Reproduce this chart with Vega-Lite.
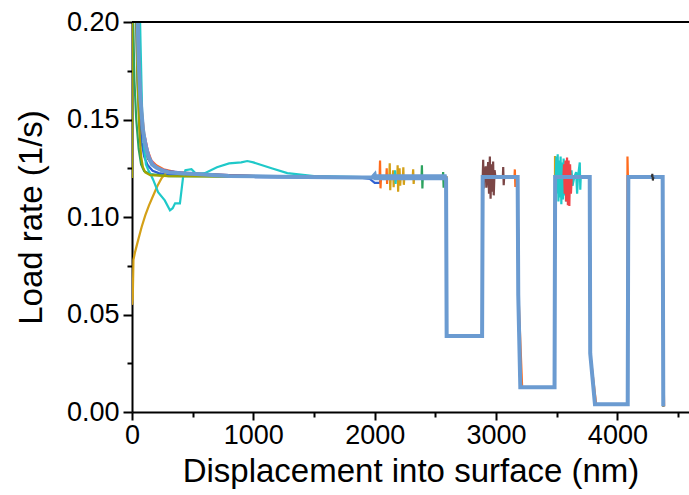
{
"$schema": "https://vega.github.io/schema/vega-lite/v6.json",
"autosize": "none",
"width": 557,
"height": 390,
"padding": {"left": 132, "top": 22, "right": 0, "bottom": 83},
"background": "white",
"config": {
  "view": {"stroke": null},
  "axis": {"grid": false, "domainColor": "black", "domainWidth": 2, "tickColor": "black", "tickWidth": 2,
    "labelFont": "Liberation Sans", "labelFontSize": 27, "labelColor": "black",
    "titleFont": "Liberation Sans", "titleFontSize": 33, "titleFontWeight": "normal", "titleColor": "black",
    "labelOverlap": false, "labelFlush": false}
},
"data": {"values": [
{"s":"b","x":0,"y":0.5},{"s":"b","x":15,"y":0.3},{"s":"b","x":30,"y":0.21},{"s":"b","x":45,"y":0.17},{"s":"b","x":60,"y":0.15},{"s":"b","x":80,"y":0.138},{"s":"b","x":100,"y":0.131},{"s":"b","x":130,"y":0.1265},{"s":"b","x":170,"y":0.1237},{"s":"b","x":220,"y":0.1225},{"s":"b","x":300,"y":0.1218},{"s":"b","x":500,"y":0.1212},{"s":"b","x":1000,"y":0.1205},{"s":"b","x":1900,"y":0.12},{"s":"b","x":1960,"y":0.1195},{"s":"b","x":2000,"y":0.1175},{"s":"b","x":2040,"y":0.1175},{"s":"b","x":2060,"y":0.1203},
{"s":"b","x":2588,"y":0.1203},{"s":"b","x":2593,"y":0.039},{"s":"b","x":2885,"y":0.039},{"s":"b","x":2890,"y":0.1205},{"s":"b","x":3178,"y":0.1205},{"s":"b","x":3183,"y":0.06},{"s":"b","x":3200,"y":0.0127},{"s":"b","x":3482,"y":0.0127},{"s":"b","x":3487,"y":0.1205},{"s":"b","x":3595,"y":0.1205},{"s":"b","x":3599,"y":0.125},{"s":"b","x":3603,"y":0.116},{"s":"b","x":3607,"y":0.1205},{"s":"b","x":3772,"y":0.1205},{"s":"b","x":3776,"y":0.03},{"s":"b","x":3815,"y":0.004},{"s":"b","x":4085,"y":0.004},{"s":"b","x":4090,"y":0.1205},{"s":"b","x":4373,"y":0.1205},{"s":"b","x":4378,"y":0.003},

{"s":"o","x":0,"y":0.6},{"s":"o","x":20,"y":0.33},{"s":"o","x":40,"y":0.23},{"s":"o","x":60,"y":0.18},{"s":"o","x":80,"y":0.155},{"s":"o","x":100,"y":0.143},{"s":"o","x":130,"y":0.134},{"s":"o","x":160,"y":0.129},{"s":"o","x":200,"y":0.1265},{"s":"o","x":260,"y":0.1245},{"s":"o","x":350,"y":0.1232},{"s":"o","x":500,"y":0.1222},{"s":"o","x":800,"y":0.1212},{"s":"o","x":1200,"y":0.1207},{"s":"o","x":1900,"y":0.1203},{"s":"o","x":2040,"y":0.1203},{"s":"o","x":2044,"y":0.129},{"s":"o","x":2048,"y":0.1147},{"s":"o","x":2052,"y":0.1203},{"s":"o","x":2096,"y":0.1203},{"s":"o","x":2099,"y":0.125},{"s":"o","x":2102,"y":0.117},{"s":"o","x":2105,"y":0.1203},
{"s":"o","x":2588,"y":0.1203},{"s":"o","x":2593,"y":0.039},{"s":"o","x":2885,"y":0.039},{"s":"o","x":2890,"y":0.1205},{"s":"o","x":3152,"y":0.1205},{"s":"o","x":3155,"y":0.1244},{"s":"o","x":3159,"y":0.1154},{"s":"o","x":3162,"y":0.1205},{"s":"o","x":3178,"y":0.1205},{"s":"o","x":3185,"y":0.06},{"s":"o","x":3215,"y":0.0127},{"s":"o","x":3482,"y":0.0127},{"s":"o","x":3487,"y":0.1205},{"s":"o","x":3772,"y":0.1205},{"s":"o","x":3776,"y":0.03},{"s":"o","x":3825,"y":0.004},{"s":"o","x":4080,"y":0.004},{"s":"o","x":4083,"y":0.131},{"s":"o","x":4086,"y":0.122},{"s":"o","x":4090,"y":0.1205},{"s":"o","x":4373,"y":0.1205},{"s":"o","x":4380,"y":0.02},{"s":"o","x":4385,"y":0.003},

{"s":"g","x":0,"y":0.055},{"s":"g","x":6,"y":0.058},{"s":"g","x":12,"y":0.078},{"s":"g","x":25,"y":0.082},{"s":"g","x":50,"y":0.088},{"s":"g","x":80,"y":0.095},{"s":"g","x":110,"y":0.101},{"s":"g","x":140,"y":0.106},{"s":"g","x":175,"y":0.111},{"s":"g","x":210,"y":0.116},{"s":"g","x":245,"y":0.12},{"s":"g","x":280,"y":0.1225},{"s":"g","x":330,"y":0.1232},{"s":"g","x":420,"y":0.1228},{"s":"g","x":700,"y":0.1215},{"s":"g","x":1200,"y":0.1207},{"s":"g","x":1900,"y":0.1203},
{"s":"g","x":2120,"y":0.1203},{"s":"g","x":2124,"y":0.1275},{"s":"g","x":2128,"y":0.1137},{"s":"g","x":2132,"y":0.1203},{"s":"g","x":2148,"y":0.1203},{"s":"g","x":2152,"y":0.124},{"s":"g","x":2156,"y":0.1153},{"s":"g","x":2160,"y":0.1203},{"s":"g","x":2186,"y":0.1203},{"s":"g","x":2189,"y":0.1265},{"s":"g","x":2193,"y":0.113},{"s":"g","x":2197,"y":0.1203},{"s":"g","x":2205,"y":0.125},{"s":"g","x":2210,"y":0.116},{"s":"g","x":2214,"y":0.1203},{"s":"g","x":2232,"y":0.1203},{"s":"g","x":2236,"y":0.1255},{"s":"g","x":2240,"y":0.1165},{"s":"g","x":2244,"y":0.1203},{"s":"g","x":2313,"y":0.1203},{"s":"g","x":2317,"y":0.1245},{"s":"g","x":2321,"y":0.117},{"s":"g","x":2325,"y":0.1203},
{"s":"g","x":2588,"y":0.1203},{"s":"g","x":2593,"y":0.039},{"s":"g","x":2885,"y":0.039},{"s":"g","x":2890,"y":0.1205},{"s":"g","x":3178,"y":0.1205},{"s":"g","x":3183,"y":0.06},{"s":"g","x":3200,"y":0.0127},{"s":"g","x":3482,"y":0.0127},{"s":"g","x":3486,"y":0.1313},{"s":"g","x":3489,"y":0.116},{"s":"g","x":3492,"y":0.1205},{"s":"g","x":3772,"y":0.1205},{"s":"g","x":3776,"y":0.03},{"s":"g","x":3815,"y":0.004},{"s":"g","x":4085,"y":0.004},{"s":"g","x":4090,"y":0.1205},{"s":"g","x":4373,"y":0.1205},{"s":"g","x":4378,"y":0.003},

{"s":"gr","x":0,"y":0.3},{"s":"gr","x":10,"y":0.2},{"s":"gr","x":20,"y":0.17},{"s":"gr","x":35,"y":0.15},{"s":"gr","x":55,"y":0.135},{"s":"gr","x":75,"y":0.127},{"s":"gr","x":100,"y":0.1235},{"s":"gr","x":150,"y":0.122},{"s":"gr","x":300,"y":0.121},{"s":"gr","x":1900,"y":0.1203},{"s":"gr","x":2386,"y":0.1203},{"s":"gr","x":2389,"y":0.1265},{"s":"gr","x":2393,"y":0.1146},{"s":"gr","x":2396,"y":0.1203},{"s":"gr","x":2561,"y":0.1203},{"s":"gr","x":2564,"y":0.123},{"s":"gr","x":2568,"y":0.115},{"s":"gr","x":2572,"y":0.1203},
{"s":"gr","x":2588,"y":0.1203},{"s":"gr","x":2593,"y":0.039},{"s":"gr","x":2885,"y":0.039},{"s":"gr","x":2890,"y":0.1205},{"s":"gr","x":3178,"y":0.1205},{"s":"gr","x":3183,"y":0.06},{"s":"gr","x":3200,"y":0.0127},{"s":"gr","x":3482,"y":0.0127},{"s":"gr","x":3487,"y":0.1205},{"s":"gr","x":3772,"y":0.1205},{"s":"gr","x":3776,"y":0.03},{"s":"gr","x":3815,"y":0.004},{"s":"gr","x":4085,"y":0.004},{"s":"gr","x":4090,"y":0.1205},{"s":"gr","x":4373,"y":0.1205},{"s":"gr","x":4378,"y":0.003},

{"s":"p","x":0,"y":0.6},{"s":"p","x":25,"y":0.3},{"s":"p","x":45,"y":0.2},{"s":"p","x":65,"y":0.16},{"s":"p","x":80,"y":0.147},{"s":"p","x":95,"y":0.143},{"s":"p","x":110,"y":0.14},{"s":"p","x":130,"y":0.134},{"s":"p","x":150,"y":0.13},{"s":"p","x":180,"y":0.127},{"s":"p","x":220,"y":0.125},{"s":"p","x":300,"y":0.1235},{"s":"p","x":500,"y":0.1222},{"s":"p","x":1000,"y":0.121},{"s":"p","x":1900,"y":0.1203},
{"s":"p","x":2588,"y":0.1203},{"s":"p","x":2593,"y":0.039},{"s":"p","x":2885,"y":0.039},{"s":"p","x":2890,"y":0.1205},{"s":"p","x":3178,"y":0.1205},{"s":"p","x":3183,"y":0.06},{"s":"p","x":3200,"y":0.0127},{"s":"p","x":3482,"y":0.0127},{"s":"p","x":3487,"y":0.1205},{"s":"p","x":3772,"y":0.1205},{"s":"p","x":3776,"y":0.03},{"s":"p","x":3815,"y":0.004},{"s":"p","x":4085,"y":0.004},{"s":"p","x":4090,"y":0.1205},{"s":"p","x":4373,"y":0.1205},{"s":"p","x":4378,"y":0.003},

{"s":"br","x":0,"y":0.6},{"s":"br","x":20,"y":0.3},{"s":"br","x":40,"y":0.2},{"s":"br","x":60,"y":0.16},{"s":"br","x":90,"y":0.142},{"s":"br","x":130,"y":0.13},{"s":"br","x":180,"y":0.126},{"s":"br","x":250,"y":0.124},{"s":"br","x":400,"y":0.1225},{"s":"br","x":1000,"y":0.121},{"s":"br","x":1900,"y":0.1203},
{"s":"br","x":2588,"y":0.1203},{"s":"br","x":2593,"y":0.039},{"s":"br","x":2885,"y":0.039},{"s":"br","x":2890,"y":0.1205},{"s":"br","x":2894,"y":0.1294},{"s":"br","x":2898,"y":0.1146},{"s":"br","x":2902,"y":0.1205},{"s":"br","x":2915,"y":0.126},{"s":"br","x":2920,"y":0.115},{"s":"br","x":2935,"y":0.1282},{"s":"br","x":2942,"y":0.112},{"s":"br","x":2949,"y":0.131},{"s":"br","x":2955,"y":0.1094},{"s":"br","x":2962,"y":0.127},{"s":"br","x":2970,"y":0.113},{"s":"br","x":2976,"y":0.1285},{"s":"br","x":2981,"y":0.1111},{"s":"br","x":2988,"y":0.124},{"s":"br","x":2995,"y":0.1205},{"s":"br","x":3056,"y":0.1205},{"s":"br","x":3059,"y":0.1256},{"s":"br","x":3063,"y":0.1163},{"s":"br","x":3067,"y":0.1205},
{"s":"br","x":3178,"y":0.1205},{"s":"br","x":3183,"y":0.06},{"s":"br","x":3200,"y":0.0127},{"s":"br","x":3482,"y":0.0127},{"s":"br","x":3487,"y":0.1205},{"s":"br","x":3772,"y":0.1205},{"s":"br","x":3776,"y":0.03},{"s":"br","x":3815,"y":0.004},{"s":"br","x":4085,"y":0.004},{"s":"br","x":4090,"y":0.1205},{"s":"br","x":4373,"y":0.1205},{"s":"br","x":4378,"y":0.003},

{"s":"c","x":0,"y":0.8},{"s":"c","x":40,"y":0.4},{"s":"c","x":60,"y":0.22},{"s":"c","x":70,"y":0.19},{"s":"c","x":85,"y":0.15},{"s":"c","x":100,"y":0.135},{"s":"c","x":115,"y":0.127},{"s":"c","x":135,"y":0.124},{"s":"c","x":160,"y":0.121},{"s":"c","x":175,"y":0.119},{"s":"c","x":215,"y":0.1127},{"s":"c","x":270,"y":0.1085},{"s":"c","x":313,"y":0.1034},{"s":"c","x":335,"y":0.1045},{"s":"c","x":355,"y":0.107},{"s":"c","x":395,"y":0.107},{"s":"c","x":420,"y":0.12},{"s":"c","x":440,"y":0.124},{"s":"c","x":490,"y":0.1245},{"s":"c","x":530,"y":0.122},{"s":"c","x":600,"y":0.1225},{"s":"c","x":700,"y":0.1255},{"s":"c","x":800,"y":0.1275},{"s":"c","x":900,"y":0.128},{"s":"c","x":950,"y":0.1287},{"s":"c","x":1000,"y":0.128},{"s":"c","x":1060,"y":0.1268},{"s":"c","x":1150,"y":0.125},{"s":"c","x":1280,"y":0.1225},{"s":"c","x":1500,"y":0.121},{"s":"c","x":1900,"y":0.1205},{"s":"c","x":2165,"y":0.1203},{"s":"c","x":2168,"y":0.124},{"s":"c","x":2172,"y":0.117},{"s":"c","x":2176,"y":0.1203},
{"s":"c","x":2588,"y":0.1203},{"s":"c","x":2593,"y":0.039},{"s":"c","x":2885,"y":0.039},{"s":"c","x":2890,"y":0.1205},{"s":"c","x":3178,"y":0.1205},{"s":"c","x":3183,"y":0.06},{"s":"c","x":3200,"y":0.0127},{"s":"c","x":3482,"y":0.0127},{"s":"c","x":3487,"y":0.1205},
{"s":"c","x":3492,"y":0.1205},{"s":"c","x":3497,"y":0.131},{"s":"c","x":3502,"y":0.112},{"s":"c","x":3508,"y":0.1322},{"s":"c","x":3514,"y":0.108},{"s":"c","x":3520,"y":0.129},{"s":"c","x":3526,"y":0.11},{"s":"c","x":3532,"y":0.131},{"s":"c","x":3538,"y":0.1065},{"s":"c","x":3545,"y":0.128},{"s":"c","x":3551,"y":0.109},{"s":"c","x":3557,"y":0.13},{"s":"c","x":3563,"y":0.111},{"s":"c","x":3570,"y":0.127},{"s":"c","x":3576,"y":0.108},{"s":"c","x":3582,"y":0.128},{"s":"c","x":3588,"y":0.112},{"s":"c","x":3595,"y":0.126},{"s":"c","x":3601,"y":0.11},{"s":"c","x":3608,"y":0.125},{"s":"c","x":3614,"y":0.114},{"s":"c","x":3622,"y":0.124},{"s":"c","x":3630,"y":0.116},{"s":"c","x":3645,"y":0.1205},{"s":"c","x":3660,"y":0.123},{"s":"c","x":3668,"y":0.112},{"s":"c","x":3675,"y":0.1205},{"s":"c","x":3690,"y":0.128},{"s":"c","x":3694,"y":0.114},{"s":"c","x":3698,"y":0.1205},
{"s":"c","x":3772,"y":0.1205},{"s":"c","x":3776,"y":0.03},{"s":"c","x":3815,"y":0.004},{"s":"c","x":4085,"y":0.004},{"s":"c","x":4090,"y":0.1205},{"s":"c","x":4373,"y":0.1205},{"s":"c","x":4378,"y":0.003},

{"s":"r","x":0,"y":0.6},{"s":"r","x":20,"y":0.33},{"s":"r","x":40,"y":0.22},{"s":"r","x":60,"y":0.175},{"s":"r","x":80,"y":0.152},{"s":"r","x":100,"y":0.14},{"s":"r","x":130,"y":0.132},{"s":"r","x":160,"y":0.128},{"s":"r","x":200,"y":0.1255},{"s":"r","x":260,"y":0.1238},{"s":"r","x":350,"y":0.1228},{"s":"r","x":600,"y":0.1215},{"s":"r","x":1200,"y":0.1207},{"s":"r","x":1900,"y":0.1203},
{"s":"r","x":2588,"y":0.1203},{"s":"r","x":2593,"y":0.039},{"s":"r","x":2885,"y":0.039},{"s":"r","x":2890,"y":0.1205},{"s":"r","x":3178,"y":0.1205},{"s":"r","x":3183,"y":0.06},{"s":"r","x":3200,"y":0.0127},{"s":"r","x":3482,"y":0.0127},{"s":"r","x":3487,"y":0.1205},{"s":"r","x":3555,"y":0.1205},{"s":"r","x":3560,"y":0.127},{"s":"r","x":3566,"y":0.112},{"s":"r","x":3572,"y":0.129},{"s":"r","x":3578,"y":0.108},{"s":"r","x":3585,"y":0.1305},{"s":"r","x":3592,"y":0.106},{"s":"r","x":3598,"y":0.129},{"s":"r","x":3604,"y":0.1056},{"s":"r","x":3610,"y":0.127},{"s":"r","x":3617,"y":0.112},{"s":"r","x":3624,"y":0.1205},{"s":"r","x":3772,"y":0.1205},{"s":"r","x":3776,"y":0.03},{"s":"r","x":3815,"y":0.004},{"s":"r","x":4085,"y":0.004},{"s":"r","x":4090,"y":0.1205},{"s":"r","x":4373,"y":0.1205},{"s":"r","x":4378,"y":0.003},

{"s":"ol","x":0,"y":0.12},{"s":"ol","x":2,"y":0.25},{"s":"ol","x":15,"y":0.3},{"s":"ol","x":30,"y":0.22},{"s":"ol","x":45,"y":0.17},{"s":"ol","x":60,"y":0.145},{"s":"ol","x":75,"y":0.131},{"s":"ol","x":90,"y":0.1255},{"s":"ol","x":110,"y":0.1228},{"s":"ol","x":150,"y":0.1215},{"s":"ol","x":300,"y":0.121},{"s":"ol","x":1900,"y":0.1203},
{"s":"ol","x":2588,"y":0.1203},{"s":"ol","x":2593,"y":0.039},{"s":"ol","x":2885,"y":0.039},{"s":"ol","x":2890,"y":0.1205},{"s":"ol","x":3178,"y":0.1205},{"s":"ol","x":3183,"y":0.06},{"s":"ol","x":3200,"y":0.0127},{"s":"ol","x":3482,"y":0.0127},{"s":"ol","x":3487,"y":0.1205},{"s":"ol","x":3772,"y":0.1205},{"s":"ol","x":3776,"y":0.03},{"s":"ol","x":3815,"y":0.004},{"s":"ol","x":4085,"y":0.004},{"s":"ol","x":4090,"y":0.1205},{"s":"ol","x":4373,"y":0.1205},{"s":"ol","x":4378,"y":0.003},

{"s":"st","x":0,"y":0.6},{"s":"st","x":20,"y":0.32},{"s":"st","x":40,"y":0.22},{"s":"st","x":55,"y":0.18},{"s":"st","x":70,"y":0.16},{"s":"st","x":90,"y":0.145},{"s":"st","x":110,"y":0.137},{"s":"st","x":135,"y":0.131},{"s":"st","x":165,"y":0.127},{"s":"st","x":200,"y":0.1253},{"s":"st","x":250,"y":0.1238},{"s":"st","x":300,"y":0.123},{"s":"st","x":400,"y":0.1224},{"s":"st","x":520,"y":0.122},{"s":"st","x":800,"y":0.121},{"s":"st","x":1200,"y":0.1207},{"s":"st","x":1900,"y":0.1203},{"s":"st","x":1980,"y":0.1203},
{"s":"st","x":2000,"y":0.1217},{"s":"st","x":2008,"y":0.119},{"s":"st","x":2016,"y":0.1217},{"s":"st","x":2024,"y":0.119},{"s":"st","x":2032,"y":0.1217},{"s":"st","x":2040,"y":0.119},{"s":"st","x":2048,"y":0.1217},{"s":"st","x":2056,"y":0.119},{"s":"st","x":2064,"y":0.1217},{"s":"st","x":2072,"y":0.119},{"s":"st","x":2080,"y":0.1217},{"s":"st","x":2088,"y":0.119},{"s":"st","x":2096,"y":0.1217},{"s":"st","x":2104,"y":0.119},{"s":"st","x":2112,"y":0.1217},{"s":"st","x":2120,"y":0.119},{"s":"st","x":2128,"y":0.1217},{"s":"st","x":2136,"y":0.119},{"s":"st","x":2144,"y":0.1217},{"s":"st","x":2152,"y":0.119},{"s":"st","x":2160,"y":0.1217},{"s":"st","x":2168,"y":0.119},{"s":"st","x":2176,"y":0.1217},{"s":"st","x":2184,"y":0.119},{"s":"st","x":2192,"y":0.1217},{"s":"st","x":2200,"y":0.119},{"s":"st","x":2208,"y":0.1217},{"s":"st","x":2216,"y":0.119},{"s":"st","x":2224,"y":0.1217},{"s":"st","x":2232,"y":0.119},{"s":"st","x":2240,"y":0.1217},{"s":"st","x":2248,"y":0.119},{"s":"st","x":2256,"y":0.1217},{"s":"st","x":2264,"y":0.119},{"s":"st","x":2272,"y":0.1217},{"s":"st","x":2280,"y":0.119},{"s":"st","x":2288,"y":0.1217},{"s":"st","x":2296,"y":0.119},{"s":"st","x":2304,"y":0.1217},{"s":"st","x":2312,"y":0.119},{"s":"st","x":2320,"y":0.1217},{"s":"st","x":2328,"y":0.119},{"s":"st","x":2336,"y":0.1217},{"s":"st","x":2344,"y":0.119},{"s":"st","x":2352,"y":0.1217},{"s":"st","x":2360,"y":0.119},{"s":"st","x":2368,"y":0.1217},{"s":"st","x":2376,"y":0.119},{"s":"st","x":2384,"y":0.1217},{"s":"st","x":2392,"y":0.119},{"s":"st","x":2400,"y":0.1217},{"s":"st","x":2408,"y":0.119},{"s":"st","x":2416,"y":0.1217},{"s":"st","x":2424,"y":0.119},{"s":"st","x":2432,"y":0.1217},{"s":"st","x":2440,"y":0.119},{"s":"st","x":2448,"y":0.1217},{"s":"st","x":2456,"y":0.119},{"s":"st","x":2464,"y":0.1217},{"s":"st","x":2472,"y":0.119},{"s":"st","x":2480,"y":0.1217},{"s":"st","x":2488,"y":0.119},{"s":"st","x":2496,"y":0.1217},{"s":"st","x":2504,"y":0.119},{"s":"st","x":2512,"y":0.1217},{"s":"st","x":2520,"y":0.119},{"s":"st","x":2528,"y":0.1217},{"s":"st","x":2536,"y":0.119},{"s":"st","x":2544,"y":0.1217},{"s":"st","x":2552,"y":0.119},{"s":"st","x":2560,"y":0.1217},{"s":"st","x":2568,"y":0.119},{"s":"st","x":2576,"y":0.1217},{"s":"st","x":2584,"y":0.119},
{"s":"st","x":2588,"y":0.1203},{"s":"st","x":2593,"y":0.039},{"s":"st","x":2885,"y":0.039},{"s":"st","x":2890,"y":0.1205},{"s":"st","x":3178,"y":0.1205},{"s":"st","x":3183,"y":0.06},{"s":"st","x":3200,"y":0.0127},{"s":"st","x":3482,"y":0.0127},{"s":"st","x":3487,"y":0.1205},{"s":"st","x":3772,"y":0.1205},{"s":"st","x":3776,"y":0.03},{"s":"st","x":3815,"y":0.004},{"s":"st","x":4085,"y":0.004},{"s":"st","x":4090,"y":0.1205},{"s":"st","x":4373,"y":0.1205},{"s":"st","x":4378,"y":0.003},

{"s":"d","x":4283,"y":0.1205},{"s":"d","x":4288,"y":0.1221},{"s":"d","x":4292,"y":0.1187},{"s":"d","x":4297,"y":0.1205}
]},
"layer": [
  {
    "transform": [{"filter": "datum.s !== 'st' && datum.s !== 'd'"}],
    "mark": {"type": "line", "clip": true, "strokeWidth": 2.2},
    "encoding": {
      "x": {"field": "x", "type": "quantitative", "scale": {"domain": [0, 4590], "nice": false, "zero": false},
        "axis": {"values": [0,500,1000,1500,2000,2500,3000,3500,4000,4500], "format": "d",
          "labelExpr": "datum.value % 1000 === 0 ? datum.label : ''",
          "tickSize": {"condition": {"test": "datum.value % 1000 === 0", "value": 8}, "value": 5},
          "labelPadding": 2, "title": "Displacement into surface (nm)", "titlePadding": 7}},
      "y": {"field": "y", "type": "quantitative", "scale": {"domain": [0, 0.2], "nice": false},
        "axis": {"values": [0,0.025,0.05,0.075,0.1,0.125,0.15,0.175,0.2],
          "labelExpr": "abs(round(datum.value*1000)) % 50 === 0 ? format(datum.value, '.2f') : ''",
          "tickSize": {"condition": {"test": "abs(round(datum.value*1000)) % 50 === 0", "value": 9}, "value": 5},
          "labelPadding": 4, "title": "Load rate (1/s)", "titlePadding": 18}},
      "color": {"field": "s", "type": "nominal", "legend": null,
        "scale": {"domain": ["b","o","g","gr","p","br","c","r","ol","d","st"],
          "range": ["#2f62d2","#ff6b1c","#d4a017","#2ca25f","#a36ee3","#7b4646","#1fc9c9","#f04348","#a3a300","#333333","#6b9bd1"]}}
    }
  },
  {
    "transform": [{"filter": "datum.s === 'st'"}],
    "mark": {"type": "line", "clip": true, "strokeWidth": 4},
    "encoding": {
      "x": {"field": "x", "type": "quantitative"},
      "y": {"field": "y", "type": "quantitative"},
      "color": {"field": "s", "type": "nominal", "legend": null}
    }
  },
  {
    "transform": [{"filter": "datum.s === 'd'"}],
    "mark": {"type": "line", "clip": true, "strokeWidth": 2},
    "encoding": {
      "x": {"field": "x", "type": "quantitative"},
      "y": {"field": "y", "type": "quantitative"},
      "color": {"field": "s", "type": "nominal", "legend": null}
    }
  },
  {
    "mark": {"type": "rule", "color": "black", "strokeWidth": 2},
    "encoding": {"y": {"datum": 0.2}}
  }
]
}
